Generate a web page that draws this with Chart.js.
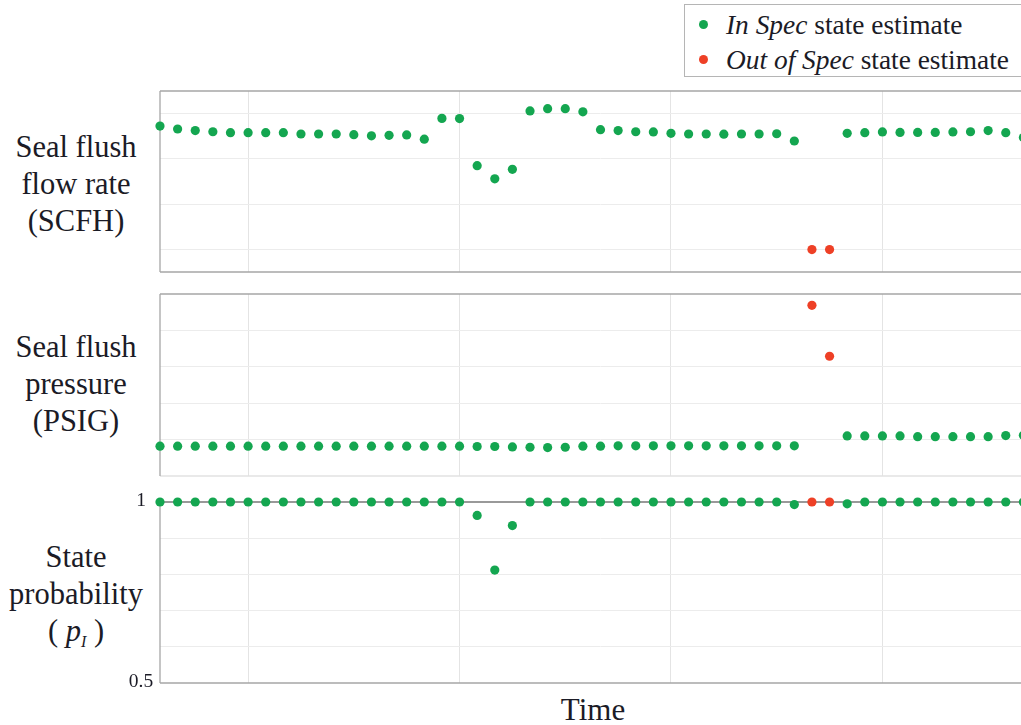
<!DOCTYPE html>
<html>
<head>
<meta charset="utf-8">
<script src="https://cdn.jsdelivr.net/npm/chart.js@4.4.1/dist/chart.umd.min.js"></script>
<style>
html, body { margin: 0; padding: 0; background: #fff; overflow: hidden; width: 1021px; height: 725px; }
body { position: relative; font-family: 'Liberation Serif', 'Times New Roman', serif; color: #1b1b26; }
canvas { position: absolute; }
.lab { position: absolute; left: 0; width: 152px; text-align: center; font-size: 30.5px; line-height: 37px; }
.legend { position: absolute; left: 684px; top: 4px; width: 360px; height: 73px; border: 1px solid #b5b5b5; box-sizing: border-box; font-size: 27.4px; }
.legend div { position: absolute; left: 41px; white-space: nowrap; line-height: 30px; }
.legend span.dot { position: absolute; left: -27px; top: 10px; width: 9px; height: 9px; border-radius: 50%; }
#time { position: absolute; left: 493px; width: 200px; top: 696px; text-align: center; font-size: 31px; line-height: 28px; }
sub { font-size: 16px; vertical-align: -6px; }
</style>
</head>
<body>

<div class="legend">
  <div style="top:5px"><span class="dot" style="background:#14a650"></span><i>In Spec</i> state estimate</div>
  <div style="top:40px"><span class="dot" style="background:#ee4026"></span><i>Out of Spec</i> state estimate</div>
</div>

<div class="lab" style="top:129px">Seal flush<br>flow rate<br>(SCFH)</div>
<div class="lab" style="top:329px">Seal flush<br>pressure<br>(PSIG)</div>
<div class="lab" style="top:539px">State<br>probability<br>( <i>p</i><sub><i>I</i></sub> )</div>
<div id="time">Time</div>

<canvas id="flow" width="901" height="201" style="left:150px;top:81px"></canvas>
<canvas id="press" width="901" height="202" style="left:150px;top:284px"></canvas>
<canvas id="prob" width="931" height="201" style="left:120px;top:492px"></canvas>

<script>
// samples 0..49, x axis = time step
const xGrid = [5, 17, 29, 41];
const outOfSpec = [37, 38];

// seal flush flow rate (arbitrary units, axis 0..8)
const flowRate = [6.45, 6.32, 6.25, 6.20, 6.16, 6.16, 6.16, 6.16, 6.10, 6.10,
  6.10, 6.07, 6.02, 6.04, 6.06, 5.87, 6.79, 6.78, 4.70, 4.12,
  4.54, 7.12, 7.22, 7.22, 7.08, 6.29, 6.25, 6.20, 6.19, 6.13,
  6.10, 6.10, 6.09, 6.10, 6.10, 6.11, 5.79, 0.99, 0.99, 6.13,
  6.16, 6.19, 6.17, 6.17, 6.17, 6.19, 6.20, 6.25, 6.16, 5.95];
const flowGrid = [1, 3, 5, 7];

// seal flush pressure (arbitrary units, axis 0..5)
const pressure = [0.82, 0.82, 0.82, 0.82, 0.82, 0.82, 0.82, 0.82, 0.82, 0.82,
  0.82, 0.82, 0.82, 0.82, 0.82, 0.82, 0.82, 0.82, 0.81, 0.81,
  0.80, 0.79, 0.78, 0.79, 0.82, 0.82, 0.83, 0.83, 0.83, 0.83,
  0.83, 0.83, 0.83, 0.83, 0.83, 0.83, 0.83, 4.69, 3.29, 1.10,
  1.10, 1.10, 1.10, 1.08, 1.08, 1.08, 1.08, 1.08, 1.11, 1.12];
const pressGrid = [1, 2, 3, 4];

// state probability p_I
const probability = [1, 1, 1, 1, 1, 1, 1, 1, 1, 1,
  1, 1, 1, 1, 1, 1, 1, 1, 0.963, 0.812,
  0.935, 1, 1, 1, 1, 1, 1, 1, 1, 1,
  1, 1, 1, 1, 1, 1, 0.993, 1, 1, 0.995,
  1, 1, 1, 1, 1, 1, 1, 1, 1, 1];
const probGrid = [0.6, 0.7, 0.8, 0.9];
const probLabels = [1, 0.5];

const green = '#14a650';
const red = '#ee4026';

// draw the panel frame lines under the points
const framePlugin = {
  id: 'frame',
  beforeDatasetsDraw(chart, args, opts) {
    const a = chart.chartArea, ctx = chart.ctx;
    ctx.save();
    ctx.lineWidth = 1.3;
    const line = (x1, y1, x2, y2, c) => {
      ctx.strokeStyle = c;
      ctx.beginPath(); ctx.moveTo(x1, y1); ctx.lineTo(x2, y2); ctx.stroke();
    };
    if (opts.top) line(a.left, a.top, a.right, a.top, opts.top);
    if (opts.bottom) line(a.left, a.bottom, a.right, a.bottom, opts.bottom);
    if (opts.left) line(a.left, a.top, a.left, a.bottom, opts.left);
    ctx.restore();
  }
};

// centred tick labels left of the probability panel
const probLabelPlugin = {
  id: 'probLabels',
  afterDraw(chart) {
    if (chart.canvas.id !== 'prob') return;
    const ctx = chart.ctx, y = chart.scales.y;
    ctx.save();
    ctx.font = "19.5px 'Liberation Serif', serif";
    ctx.fillStyle = '#1b1b26';
    ctx.textAlign = 'center';
    ctx.textBaseline = 'middle';
    probLabels.forEach(v => ctx.fillText(String(v), chart.chartArea.left - 19, y.getPixelForValue(v) - 1));
    ctx.restore();
  }
};

function makePanel(id, values, yMin, yMax, yGrid, frame, padLeft) {
  const inPts = [], outPts = [];
  values.forEach((v, i) => (outOfSpec.includes(i) ? outPts : inPts).push({ x: i, y: v }));
  return new Chart(document.getElementById(id), {
    type: 'scatter',
    data: {
      datasets: [
        { data: inPts, backgroundColor: green, pointRadius: 4.6, pointBorderWidth: 0, clip: false },
        { data: outPts, backgroundColor: red, pointRadius: 4.6, pointBorderWidth: 0, clip: false }
      ]
    },
    options: {
      responsive: false,
      animation: false,
      devicePixelRatio: 1,
      layout: { padding: { left: padLeft, right: 10, top: 10, bottom: 10 } },
      plugins: { legend: { display: false }, tooltip: { enabled: false }, frame: frame },
      scales: {
        x: {
          type: 'linear', min: 0, max: 50,
          afterBuildTicks: s => { s.ticks = xGrid.map(v => ({ value: v })); },
          ticks: { display: false },
          grid: { color: '#e4e4e4', lineWidth: 1, drawTicks: false },
          border: { display: false }
        },
        y: {
          min: yMin, max: yMax,
          afterBuildTicks: s => { s.ticks = yGrid.map(v => ({ value: v })); },
          ticks: { display: false },
          grid: { color: '#ececec', lineWidth: 1, drawTicks: false },
          border: { display: false }
        }
      }
    },
    plugins: [framePlugin, probLabelPlugin]
  });
}

makePanel('flow', flowRate, 0, 8, flowGrid, { top: '#a6a6a6', bottom: '#a6a6a6', left: '#a6a6a6' }, 10);
makePanel('press', pressure, 0, 5, pressGrid, { top: '#a6a6a6', bottom: '#e2e2e2', left: '#a6a6a6' }, 10);
makePanel('prob', probability, 0.5, 1, probGrid, { top: '#777777', bottom: '#a6a6a6', left: '#a6a6a6' }, 40);
</script>
</body>
</html>
